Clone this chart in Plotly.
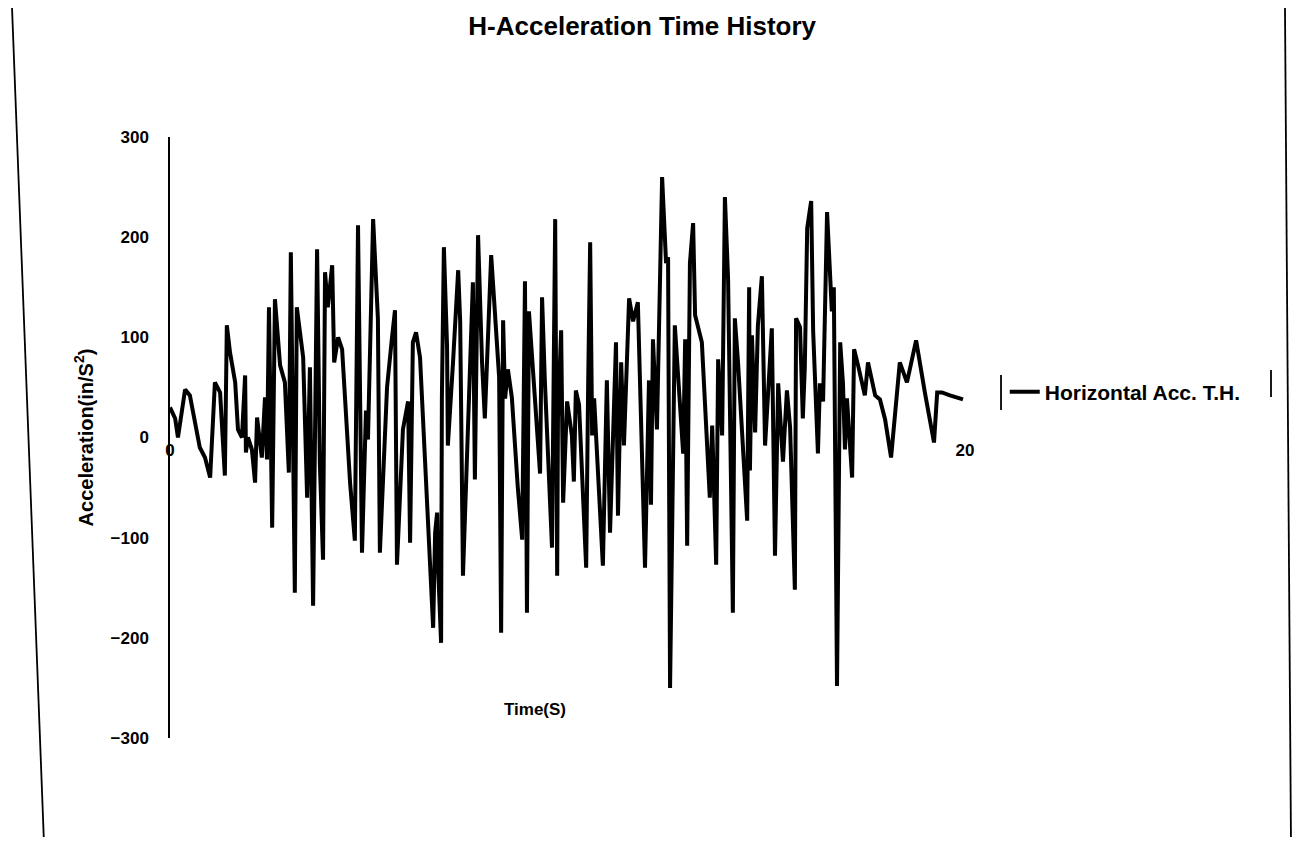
import plotly.graph_objects as go

# Time (s)
time_s = [0.00, 0.13, 0.20, 0.38, 0.50, 0.75, 0.88, 1.01, 1.06, 1.13,
          1.26, 1.38, 1.43, 1.51, 1.64, 1.71, 1.81, 1.89, 1.91, 1.96,
          2.06, 2.14, 2.19, 2.26, 2.31, 2.39, 2.44, 2.49, 2.57, 2.64,
          2.77, 2.89, 2.99, 3.04, 3.14, 3.19, 3.35, 3.45, 3.52, 3.60,
          3.70, 3.77, 3.85, 3.90, 3.97, 4.08, 4.13, 4.23, 4.33, 4.53,
          4.65, 4.73, 4.83, 4.93, 4.98, 5.11, 5.23, 5.28, 5.46, 5.58,
          5.66, 5.71, 5.86, 5.99, 6.04, 6.11, 6.19, 6.29, 6.62, 6.67,
          6.72, 6.74, 6.82, 6.84, 6.89, 6.97, 6.99, 7.12, 7.22, 7.25,
          7.30, 7.37, 7.62, 7.67, 7.75, 7.85, 7.92, 8.08, 8.28, 8.33,
          8.38, 8.43, 8.50, 8.60, 8.75, 8.86, 8.93, 8.98, 9.03, 9.26,
          9.31, 9.36, 9.43, 9.61, 9.69, 9.74, 9.76, 9.84, 9.89, 9.99,
          10.11, 10.16, 10.21, 10.29, 10.47, 10.52, 10.57, 10.62, 10.67, 10.89,
          10.99, 11.07, 11.22, 11.27, 11.35, 11.42, 11.50, 11.55, 11.65, 11.77,
          11.95, 12.05, 12.10, 12.15, 12.25, 12.38, 12.48, 12.53, 12.58, 12.70,
          12.91, 12.96, 13.01, 13.08, 13.16, 13.21, 13.38, 13.58, 13.64, 13.74,
          13.79, 13.89, 13.96, 14.04, 14.16, 14.21, 14.29, 14.52, 14.57, 14.59,
          14.64, 14.72, 14.79, 14.89, 14.97, 15.04, 15.14, 15.22, 15.30, 15.42,
          15.52, 15.60, 15.72, 15.75, 15.85, 15.92, 15.97, 16.03, 16.13, 16.18,
          16.30, 16.35, 16.43, 16.53, 16.65, 16.70, 16.78, 16.86, 16.93, 16.98,
          17.03, 17.16, 17.21, 17.31, 17.48, 17.56, 17.74, 17.86, 17.99, 18.14,
          18.36, 18.54, 18.77, 18.99, 19.22, 19.30, 19.42, 19.62, 19.82, 19.95]

# Horizontal acceleration (in/s^2)
accel = [30, 19, 0, 48, 42, -10, -20, -40, 0, 55,
         45, -38, 112, 85, 55, 8, 0, 62, -15, 0,
         -12, -45, 20, 0, -20, 40, -22, 130, -90, 138,
         72, 55, -35, 185, -155, 130, 80, -60, 70, -168,
         188, -26, -122, 165, 130, 172, 75, 100, 88, -45,
         -103, 212, -115, 27, -2, 218, 119, -115, 50, 98,
         127, -127, 8, 36, -105, 95, 105, 80, -190, -95,
         -75, -125, -205, 40, 190, 91, -8, 75, 157, 167,
         116, -138, 155, -42, 202, 75, 19, 182, 60, -195,
         117, 39, 68, 40, -50, -102, 156, -175, 126, -2,
         -36, 140, 57, -110, 218, -138, 19, 107, -65, 36,
         2, -44, 47, 33, -130, 54, 195, 2, 39, -128,
         57, -95, 95, -78, 75, -8, 81, 139, 116, 135,
         -130, 57, -67, 98, 8, 260, 174, 180, -250, 112,
         -16, 98, -108, 174, 214, 122, 95, -60, 12, -127,
         78, 2, 240, 158, -175, 119, 75, -83, 150, -33,
         102, 5, 112, 161, -8, 40, 109, -118, 54, -24,
         47, 10, -152, 119, 110, 19, 70, 209, 236, 106,
         -16, 54, 36, 225, 126, 150, -248, 95, 54, -12,
         39, -40, 88, 72, 42, 75, 42, 38, 18, -20,
         75, 55, 97, 45, -5, 45, 45, 42, 40, 38]

y_ticks = [-300, -200, -100, 0, 100, 200, 300]
x_ticks = [0, 20]

FONT = "Liberation Sans, Arial, sans-serif"

fig = go.Figure()
fig.add_trace(go.Scatter(
    x=time_s, y=accel, mode="lines",
    line=dict(color="black", width=4),
    name="Horizontal Acc. T.H.",
))

fig.update_layout(
    width=1284, height=829,
    margin=dict(l=162, r=327, t=129, b=99, autoexpand=False),
    paper_bgcolor="white", plot_bgcolor="white",
    font=dict(family=FONT, color="black", size=17, weight="bold"),
    title=dict(
        text="H-Acceleration Time History",
        x=0.594, xref="paper", xanchor="center",
        y=0.978, yref="container", yanchor="middle",
        font=dict(size=26, weight="bold", family=FONT, color="black"),
    ),
    xaxis=dict(
        range=[0, 20], anchor="free", position=0.5, automargin=False,
        showline=False, showgrid=False, zeroline=False,
        tickvals=x_ticks, ticks="",
        tickfont=dict(size=17, weight="bold", family=FONT),
    ),
    yaxis=dict(
        range=[-300, 300], tickvals=y_ticks, automargin=False,
        showline=True, linecolor="black", linewidth=1.5,
        showgrid=False, zeroline=False, ticks="",
        ticklabelstandoff=16,
        tickfont=dict(size=17, weight="bold", family=FONT),
        title=dict(text="Acceleration(in/S<sup>2</sup>)", standoff=12,
                   font=dict(size=20, weight="bold", family=FONT)),
    ),
    legend=dict(
        x=1.050, y=0.5757, xanchor="left", yanchor="middle",
        font=dict(size=21, weight="bold", family=FONT),
        bgcolor="rgba(0,0,0,0)", borderwidth=0,
    ),
    showlegend=True,
)

fig.add_annotation(
    text="Time(S)", x=0.459, y=0.047, xref="paper", yref="paper",
    xanchor="center", yanchor="middle",
    showarrow=False, font=dict(size=17, weight="bold", family=FONT),
)

# legend bracket bars and outer frame lines
shapes = [
    dict(x0=1.0453, x1=1.0453, y0=0.5458, y1=0.604),
    dict(x0=1.3849, x1=1.3849, y0=0.5674, y1=0.6123),
    dict(x0=-0.1987, x1=-0.1588, y0=1.2146, y1=-0.1647),
    dict(x0=1.4025, x1=1.4100, y0=1.2146, y1=-0.1647),
]
for s in shapes:
    fig.add_shape(type="line", xref="paper", yref="paper",
                  line=dict(color="black", width=1.8), **s)

fig.write_html("out.html")
